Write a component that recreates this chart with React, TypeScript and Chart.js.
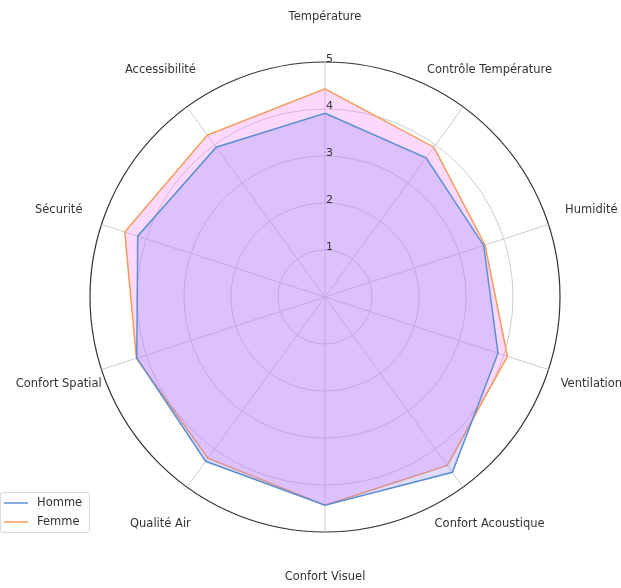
import React, { useEffect, useRef } from "react";
import { Chart, registerables } from "chart.js";

Chart.register(...registerables);

const categories = [
  "Température",
  "Contrôle Température",
  "Humidité",
  "Ventilation",
  "Confort Acoustique",
  "Confort Visuel",
  "Qualité Air",
  "Confort Spatial",
  "Sécurité",
  "Accessibilité",
];
const homme = [3.91, 3.66, 3.55, 3.87, 4.61, 4.43, 4.32, 4.21, 4.19, 3.94];
const femme = [4.43, 3.94, 3.58, 4.08, 4.43, 4.43, 4.24, 4.22, 4.48, 4.26];
const tickValues = [1, 2, 3, 4, 5];
const seriesNames = ["Homme", "Femme"];

const FONT = "'DejaVu Sans', sans-serif";
const HOMME_LINE = "#5b8fd2";
const FEMME_LINE = "#f59a58";

const overlayPlugin = {
  id: "overlay",
  afterDraw(chart: any) {
    const scale = chart.scales.r;
    const ctx = chart.ctx;
    ctx.save();
    // category labels
    ctx.font = `11.5px ${FONT}`;
    ctx.fillStyle = "#333";
    ctx.textAlign = "center";
    ctx.textBaseline = "middle";
    const labelDist = scale.drawingArea * (280 / 235);
    categories.forEach((c, i) => {
      const p = scale.getPointPosition(i, labelDist);
      ctx.fillText(c, p.x, p.y);
    });
    // tick labels
    ctx.font = `11px ${FONT}`;
    ctx.textAlign = "left";
    tickValues.forEach((v) => {
      const d = scale.getDistanceFromCenterForValue(v);
      ctx.fillText(String(v), scale.xCenter + 1, scale.yCenter - d - 3);
    });
    // legend
    const bx = 0, by = 492, bw = 89, bh = 40;
    ctx.fillStyle = "rgba(255,255,255,0.85)";
    ctx.strokeStyle = "#d8d8d8";
    ctx.lineWidth = 1;
    ctx.beginPath();
    ctx.roundRect(bx + 0.5, by + 0.5, bw, bh, 2);
    ctx.fill();
    ctx.stroke();
    const cols = [HOMME_LINE, FEMME_LINE];
    seriesNames.forEach((n, i) => {
      const y = by + 11 + i * 19;
      ctx.strokeStyle = cols[i];
      ctx.lineWidth = 1.5;
      ctx.beginPath();
      ctx.moveTo(4, y);
      ctx.lineTo(28, y);
      ctx.stroke();
      ctx.fillStyle = "#333";
      ctx.font = `11.5px ${FONT}`;
      ctx.textAlign = "left";
      ctx.textBaseline = "middle";
      ctx.fillText(n, 37, y);
    });
    ctx.restore();
  },
};

export default function App() {
  const ref = useRef<HTMLCanvasElement>(null);
  useEffect(() => {
    if (!ref.current) return;
    const chart = new Chart(ref.current, {
      type: "radar",
      data: {
        labels: categories,
        datasets: [
          {
            label: seriesNames[0],
            data: homme,
            borderColor: HOMME_LINE,
            backgroundColor: "rgba(140,130,255,0.28)",
            borderWidth: 1.5,
            pointRadius: 0,
            fill: true,
          },
          {
            label: seriesNames[1],
            data: femme,
            borderColor: FEMME_LINE,
            backgroundColor: "rgba(245,130,245,0.3)",
            borderWidth: 1.5,
            pointRadius: 0,
            fill: true,
          },
        ],
      },
      options: {
        animation: false,
        responsive: false,
        maintainAspectRatio: false,
        layout: { padding: { left: 90, top: 62, right: 61, bottom: 56 } },
        plugins: { legend: { display: false }, tooltip: { enabled: false } },
        elements: { line: { tension: 0 } },
        scales: {
          r: {
            min: 0,
            max: 5,
            beginAtZero: true,
            ticks: { display: false, stepSize: 1 },
            pointLabels: { display: false },
            grid: {
              circular: true,
              color: (c: any) => (c.tick && c.tick.value === 5 ? "#333" : "#cccccc"),
              lineWidth: (c: any) => (c.tick && c.tick.value === 5 ? 1.2 : 1),
            },
            angleLines: { display: true, color: "#cccccc", lineWidth: 1 },
          },
        },
      },
      plugins: [overlayPlugin],
    });
    return () => chart.destroy();
  }, []);
  return (
    <div style={{ position: "fixed", left: 0, top: 0, width: 621, height: 588, background: "#fff" }}>
      <canvas ref={ref} width={621} height={588} style={{ width: 621, height: 588, display: "block" }} />
    </div>
  );
}
